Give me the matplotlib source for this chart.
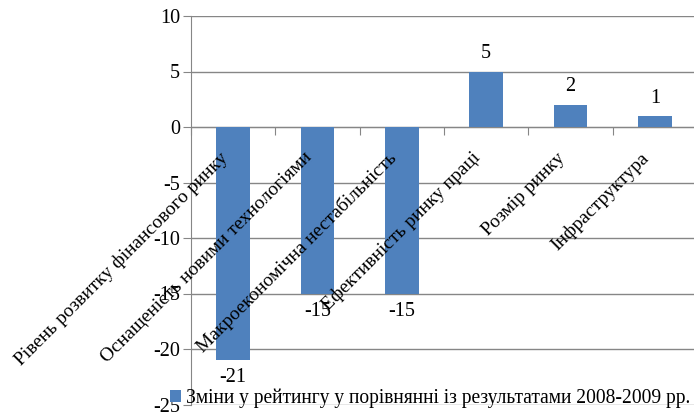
import matplotlib
matplotlib.use("Agg")
import matplotlib.pyplot as plt
from matplotlib.patches import Patch

categories = [
    "Рівень розвитку фінансового ринку",
    "Оснащеність новими технологіями",
    "Макроекономічна нестабільність",
    "Ефективність ринку праці",
    "Розмір ринку",
    "Інфраструктура",
]
values = [-21, -15, -15, 5, 2, 1]
series_name = "Зміни у рейтингу у порівнянні із результатами 2008-2009 рр."
yticks = [-25, -20, -15, -10, -5, 0, 5, 10]

plt.rcParams['font.family'] = ['Liberation Serif', 'DejaVu Serif']

fig = plt.figure(figsize=(6.94, 4.17), dpi=100)
ax = fig.add_axes([191/694, 1-404.5/417, (697-191)/694, (404.5-16)/417])

bar_color = "#4F81BD"
grid_color = "#868686"
x = list(range(len(categories)))
ax.bar(x, values, width=0.4, color=bar_color, zorder=3)

ax.set_xlim(-0.5, len(categories) - 0.5)
ax.set_ylim(-25, 10)
ax.set_yticks(yticks)
ax.set_yticklabels([str(v) for v in yticks], fontsize=14.5)
ax.yaxis.grid(True, color=grid_color, linewidth=1, zorder=0)
ax.set_axisbelow(True)

for s in ["top", "right"]:
    ax.spines[s].set_visible(False)
ax.spines["left"].set_color(grid_color)
ax.spines["bottom"].set_color(grid_color)
ax.spines["bottom"].set_position(("data", 0))
ax.spines["bottom"].set_zorder(2)
ax.tick_params(axis="y", length=6, color=grid_color, pad=2)
ax.set_xticks([i + 0.5 for i in range(-1, len(categories))])
ax.set_xticklabels([])
ax.tick_params(axis="x", length=6, color=grid_color, direction="out")

for i, (c, v) in enumerate(zip(categories, values)):
    ax.text(i - 0.17, -2.0, c, rotation=45, rotation_mode="anchor",
            ha="right", va="top", fontsize=14, zorder=4)
    if v >= 0:
        ax.annotate(str(v), (i, v), xytext=(0, 6), textcoords="offset points",
                    ha="center", va="bottom", fontsize=14.5)
    else:
        ax.annotate(str(v), (i, v), xytext=(0, -6), textcoords="offset points",
                    ha="center", va="top", fontsize=14.5)

handle = Patch(facecolor=bar_color, edgecolor="none")
fig.legend([handle], [series_name], loc="center left",
           bbox_to_anchor=(170/694, 1-398/417), frameon=False, fontsize=14.05,
           handlelength=0.55, handleheight=0.55, handletextpad=0.25,
           borderpad=0, borderaxespad=0)

fig.savefig("out.png", dpi=100)
